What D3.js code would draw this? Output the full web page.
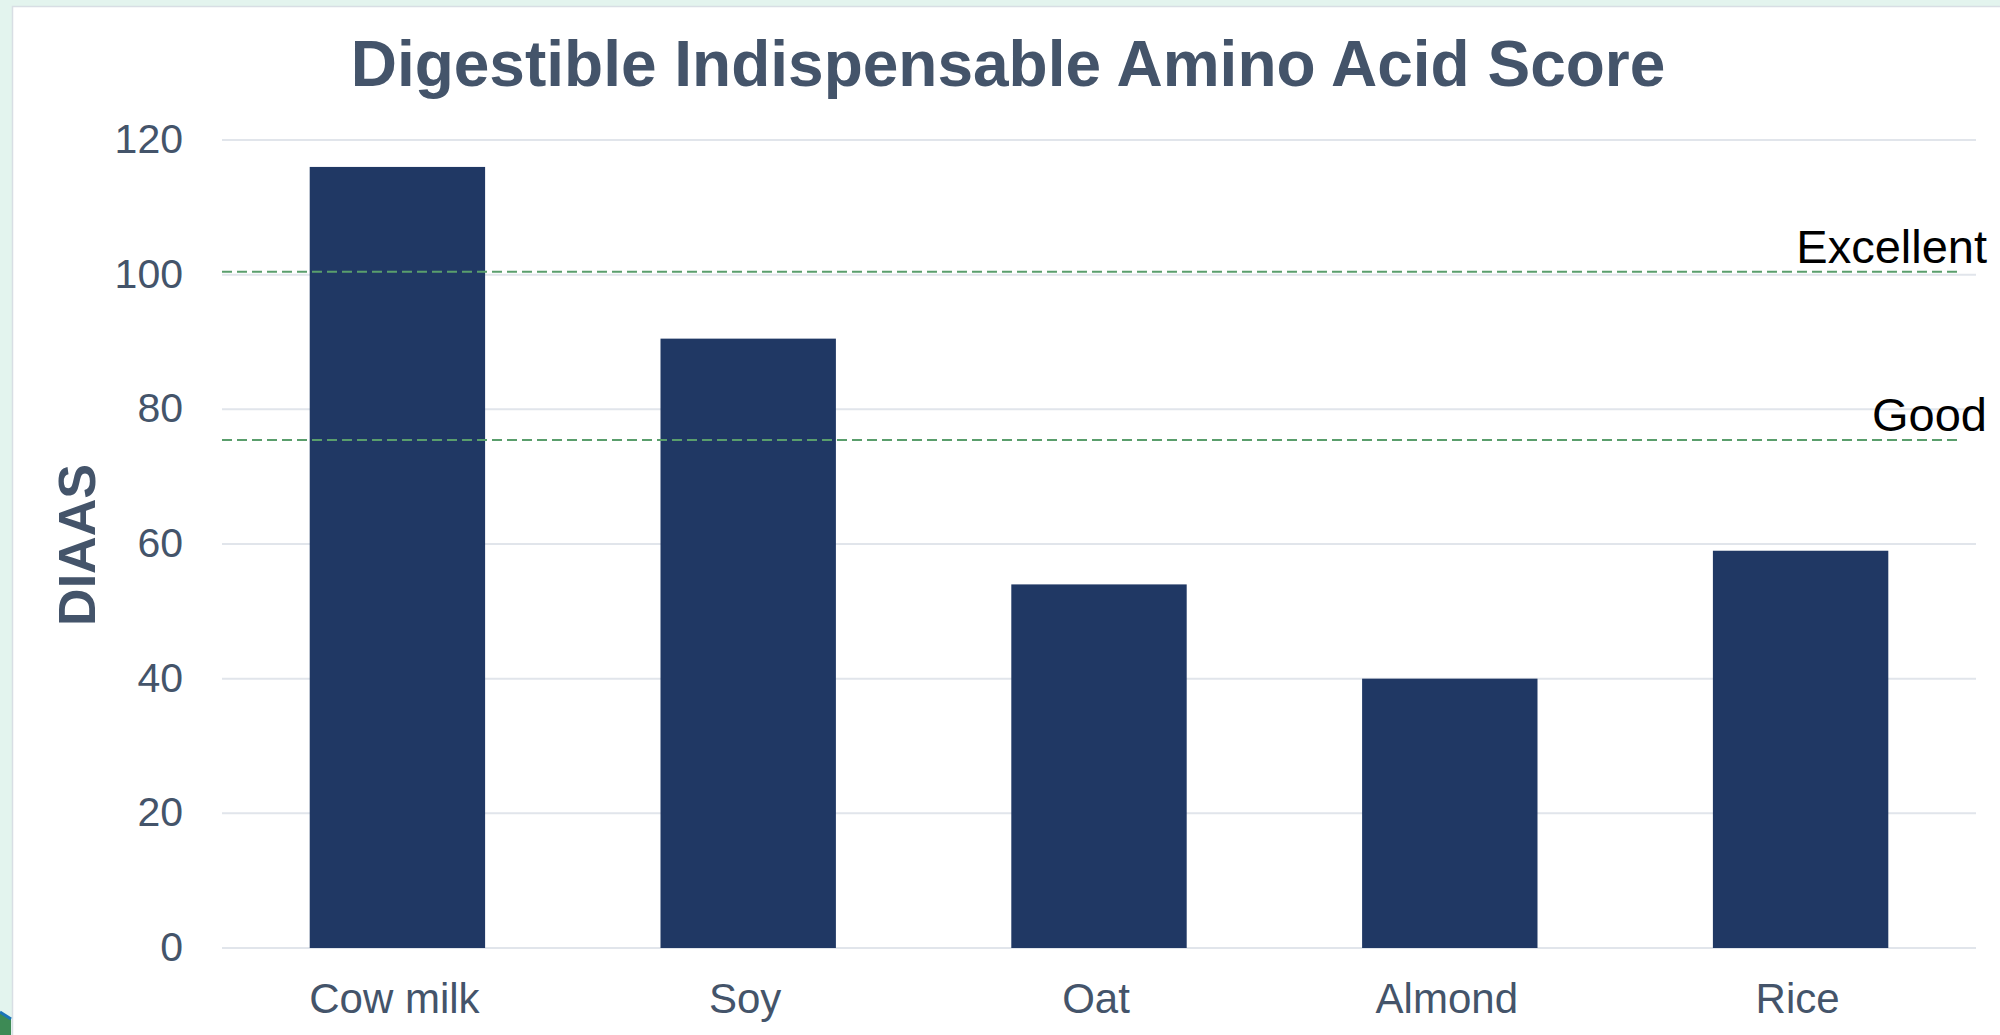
<!DOCTYPE html>
<html>
<head>
<meta charset="utf-8">
<script src="https://cdn.jsdelivr.net/npm/d3@7/dist/d3.min.js"></script>
<style>
    html, body { margin: 0; padding: 0; background: #e3f4ee; }
    svg { display: block; font-family: "Liberation Sans", Arial, sans-serif; }
</style>
</head>
<body>
<div id="chart"></div>
<script>
'use strict';

// Data
const categories = ["Cow milk", "Soy", "Oat", "Almond", "Rice"];
const scores = [116, 90.5, 54, 40, 59];
const yTicks = [0, 20, 40, 60, 80, 100, 120];
const thresholds = [
    { label: "Excellent", value: 100 },
    { label: "Good", value: 75 }
];

const width = 2000, height = 1035;
const plot = { left: 222, right: 1976, top: 140, bottom: 948 };

const svg = d3.select("#chart").append("svg")
    .attr("width", width)
    .attr("height", height);

// Page background + white panel
svg.append("rect")
    .attr("width", width).attr("height", height)
    .attr("fill", "#e3f4ee");

svg.append("rect")
    .attr("x", 12.5).attr("y", 6.5)
    .attr("width", width).attr("height", height)
    .attr("fill", "#ffffff")
    .attr("stroke", "#d8dee4")
    .attr("stroke-width", 1.5);

// little decoration bottom-left
svg.append("path")
    .attr("d", "M0,1012 L11,1019 L11,1035 L0,1035 Z")
    .attr("fill", "#3d8a55");
svg.append("path")
    .attr("d", "M0,1012 L11,1019")
    .attr("stroke", "#1b75b8")
    .attr("stroke-width", 3);

// Scales
const x = d3.scaleBand()
    .domain(categories)
    .range([plot.left, plot.right])
    .paddingInner(0.5)
    .paddingOuter(0.25);

const y = d3.scaleLinear()
    .domain([0, 120])
    .range([plot.bottom, plot.top]);

// Gridlines
svg.append("g").selectAll("line")
    .data(yTicks)
    .join("line")
    .attr("x1", plot.left)
    .attr("x2", plot.right)
    .attr("y1", d => y(d))
    .attr("y2", d => y(d))
    .attr("stroke", "#e1e5eb")
    .attr("stroke-width", 2);

// Y tick labels
svg.append("g").selectAll("text")
    .data(yTicks)
    .join("text")
    .attr("x", 183)
    .attr("y", d => y(d) + 13)
    .attr("text-anchor", "end")
    .attr("font-size", 41)
    .attr("fill", "#44546a")
    .text(d => d);

// Bars
svg.append("g").selectAll("rect")
    .data(categories)
    .join("rect")
    .attr("x", d => x(d))
    .attr("y", (d, i) => y(scores[i]))
    .attr("width", x.bandwidth())
    .attr("height", (d, i) => y(0) - y(scores[i]))
    .attr("fill", "#203864");

// Category labels
svg.append("g").selectAll("text")
    .data(categories)
    .join("text")
    .attr("x", d => x(d) + x.bandwidth() / 2 - 3)
    .attr("y", plot.bottom + 65)
    .attr("text-anchor", "middle")
    .attr("font-size", 42)
    .attr("fill", "#44546a")
    .text(d => d);

// Threshold lines
const th = svg.append("g");
th.selectAll("line")
    .data(thresholds)
    .join("line")
    .attr("x1", plot.left)
    .attr("x2", 1958)
    .attr("y1", d => y(d.value) - 3)
    .attr("y2", d => y(d.value) - 3)
    .attr("stroke", "#5a9e6c")
    .attr("stroke-width", 2)
    .attr("stroke-dasharray", "10 5");

th.selectAll("text")
    .data(thresholds)
    .join("text")
    .attr("x", 1987)
    .attr("y", d => y(d.value) - 12)
    .attr("text-anchor", "end")
    .attr("font-size", 47)
    .attr("fill", "#000")
    .text(d => d.label);

// Title
svg.append("text")
    .attr("x", 1008)
    .attr("y", 86)
    .attr("text-anchor", "middle")
    .attr("font-size", 64)
    .attr("font-weight", "bold")
    .attr("fill", "#44546a")
    .text("Digestible Indispensable Amino Acid Score");

// Y axis title
svg.append("text")
    .attr("transform", "translate(95,545) rotate(-90)")
    .attr("text-anchor", "middle")
    .attr("font-size", 52)
    .attr("font-weight", "bold")
    .attr("fill", "#44546a")
    .text("DIAAS");
</script>
</body>
</html>
